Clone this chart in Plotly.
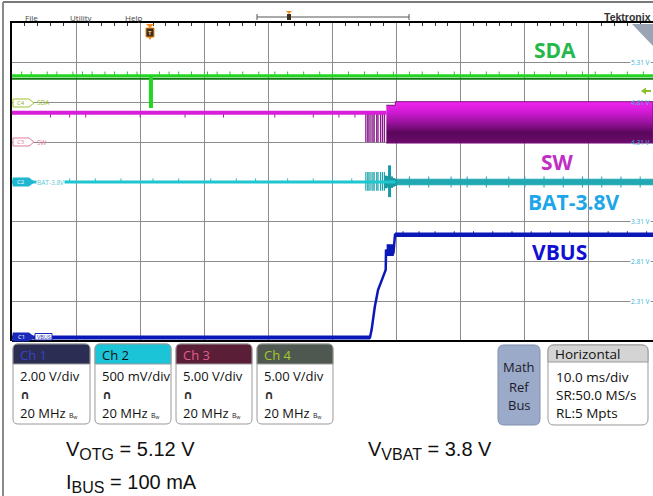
import plotly.graph_objects as go

W, H = 653, 496
def X(p): return p / W
def Y(p): return 1 - p / H

# ---------------- data (time in ms, amplitude in divisions) ----------------
time_range = [0, 100]
div_range = [0, 8]

sda_t = [0, 21.6, 21.6, 21.75, 21.75, 100]
sda_v = [6.67, 6.67, 5.9, 5.9, 6.67, 6.67]
sda_glitch_t = [1.5, 3, 5.5, 7, 9.5, 11, 12.5, 14.5, 16, 18, 19.5, 23, 24.5, 26, 28, 30.5, 32,
                34, 36, 38.5, 41, 43, 45.5, 48, 50, 52.5, 55, 57, 59.5, 62, 64, 66.5, 69, 71.5,
                74, 76, 79, 81.5, 84, 86.5, 89, 91, 93.5, 96, 98.5]
sda_glitch_top = 6.78

sw_idle_t = [0, 58.4]
sw_idle_v = [5.74, 5.74]
sw_idle_glitch_t = [6, 9, 11.5, 20, 27, 33, 41, 47, 51, 53.5]
sw_burst_t = [55.2, 55.5, 55.7, 56.0, 56.3, 56.5, 56.9, 57.1, 57.5, 57.8, 58.1]
sw_burst_low = 5.0
sw_band_t = [58.4, 59.8, 59.8, 100]
sw_band_top = [5.93, 5.93, 6.02, 6.02]
sw_band_bot = [4.98, 4.98, 4.98, 4.98]

bat_t = [0, 59.8]
bat_v = [4.0, 4.0]
bat_glitch_t = [2.5, 6, 9, 13, 17, 22, 26, 31, 35, 38, 43, 47, 50, 53]
bat_burst_t = [55.2, 55.5, 55.7, 56.0, 56.3, 56.5, 56.9, 57.1, 57.5, 57.8, 58.1]
bat_burst_lo, bat_burst_hi = 3.78, 4.25
bat_ring_t = [58.3, 58.6, 58.9, 59.2, 59.5, 59.8]
bat_ring_lo = [3.84, 3.86, 3.62, 3.85, 3.88, 3.9]
bat_ring_hi = [4.16, 4.15, 4.42, 4.14, 4.1, 4.08]
bat_after_t = [59.8, 100]
bat_after_lo = [3.93, 3.93]
bat_after_hi = [4.07, 4.07]
bat_after_glitch_t = [62, 65, 68.5, 71, 74, 77.5, 80, 83, 86, 89, 92, 95, 98]

vbus_t = [0, 55.85, 56.1, 56.6, 57.1, 57.9, 58.3, 58.35, 58.6, 58.85, 59.1, 59.35, 59.5, 59.75, 100]
vbus_v = [0.09, 0.09, 0.28, 0.86, 1.28, 1.62, 1.79, 2.3, 2.16, 2.4, 2.18, 2.4, 2.2, 2.67, 2.67]
vbus_step_t = [58.45, 59.5]
vbus_step_lo = 2.15
vbus_step_hi = 2.42
vbus_glitch_t = [61, 63.5, 66, 69, 72, 75, 78, 81, 84, 87, 90, 93, 96, 99]

offset_labels = ["5.31 V", "4.81 V", "4.31 V", "3.31 V", "2.31 V", "2.81 V"]
offset_divs = [7, 6, 5, 3, 1, 2]

channels = ["Ch 1", "Ch 2", "Ch 3", "Ch 4"]
scales = ["2.00 V/div", "500 mV/div", "5.00 V/div", "5.00 V/div"]
bandwidth = ["20 MHz", "20 MHz", "20 MHz", "20 MHz"]
horizontal = ["10.0 ms/div", "SR:50.0 MS/s", "RL:5 Mpts"]

# ---------------- helpers ----------------
def segs(ts, lo, hi):
    xs, ys = [], []
    for i, t in enumerate(ts):
        l = lo[i] if isinstance(lo, list) else lo
        h = hi[i] if isinstance(hi, list) else hi
        xs += [t, t, None]
        ys += [l, h, None]
    return xs, ys

fig = go.Figure()

# SDA
gx, gy = segs(sda_glitch_t, 6.67, sda_glitch_top)
fig.add_trace(go.Scatter(x=gx, y=gy, mode="lines", line=dict(color="#2bc42b", width=1), hoverinfo="skip"))
fig.add_trace(go.Scatter(x=sda_t, y=[v - 0.07 if v > 6 else v for v in sda_v], mode="lines",
                         line=dict(color="#137a13", width=2), hoverinfo="skip"))
fig.add_trace(go.Scatter(x=sda_t, y=sda_v, mode="lines", line=dict(color="#22d622", width=3), hoverinfo="skip"))

# SW
fig.add_trace(go.Scatter(
    x=sw_band_t + sw_band_t[::-1], y=sw_band_top + sw_band_bot[::-1], mode="lines", fill="toself",
    line=dict(color="#7a107a", width=1),
    fillgradient=dict(type="vertical", start=4.98, stop=6.02,
                      colorscale=[[0, "#6a0c6a"], [0.25, "#5a065c"], [0.5, "#9a129e"],
                                  [0.75, "#d01ad4"], [1, "#f024f0"]]),
    hoverinfo="skip"))
bx, by = segs(sw_burst_t, sw_burst_low, sw_idle_v[0])
fig.add_trace(go.Scatter(x=bx, y=by, mode="lines", line=dict(color="#8a1a8a", width=1.3), hoverinfo="skip"))
gx, gy = segs(sw_idle_glitch_t, 5.62, 5.74)
fig.add_trace(go.Scatter(x=gx, y=gy, mode="lines", line=dict(color="#a020a0", width=1), hoverinfo="skip"))
fig.add_trace(go.Scatter(x=sw_idle_t, y=sw_idle_v, mode="lines", line=dict(color="#d81ed8", width=4), hoverinfo="skip"))

# BAT
fig.add_trace(go.Scatter(x=bat_after_t + bat_after_t[::-1], y=bat_after_hi + bat_after_lo[::-1],
                         mode="lines", fill="toself", fillcolor="#22a8b2",
                         line=dict(color="#22a8b2", width=1), hoverinfo="skip"))
gx, gy = segs(bat_after_glitch_t, 3.86, 4.14)
fig.add_trace(go.Scatter(x=gx, y=gy, mode="lines", line=dict(color="#22a8b2", width=1), hoverinfo="skip"))
bx, by = segs(bat_burst_t, bat_burst_lo, bat_burst_hi)
fig.add_trace(go.Scatter(x=bx, y=by, mode="lines", line=dict(color="#1fa6ae", width=1.2), hoverinfo="skip"))
rx, ry = segs(bat_ring_t, bat_ring_lo, bat_ring_hi)
fig.add_trace(go.Scatter(x=rx, y=ry, mode="lines", line=dict(color="#1a9aa2", width=3), hoverinfo="skip"))
gx, gy = segs(bat_glitch_t, 4.0, 4.09)
fig.add_trace(go.Scatter(x=gx, y=gy, mode="lines", line=dict(color="#1fc0c8", width=1), hoverinfo="skip"))
fig.add_trace(go.Scatter(x=bat_t, y=bat_v, mode="lines", line=dict(color="#1ec6cf", width=3), hoverinfo="skip"))

# VBUS
fig.add_trace(go.Scatter(x=vbus_step_t + vbus_step_t[::-1],
                         y=[vbus_step_lo, vbus_step_lo, vbus_step_hi, vbus_step_hi],
                         mode="lines", fill="toself", fillcolor="#0b18b8",
                         line=dict(color="#0b18b8", width=1), hoverinfo="skip"))
gx, gy = segs(vbus_glitch_t, 2.67, 2.76)
fig.add_trace(go.Scatter(x=gx, y=gy, mode="lines", line=dict(color="#0b18b8", width=1), hoverinfo="skip"))
fig.add_trace(go.Scatter(x=vbus_t, y=vbus_v, mode="lines", line=dict(color="#0b18b8", width=2.5), hoverinfo="skip"))
fig.add_trace(go.Scatter(x=vbus_t[:2], y=vbus_v[:2], mode="lines", line=dict(color="#0b18b8", width=4), hoverinfo="skip"))
fig.add_trace(go.Scatter(x=vbus_t[-2:], y=vbus_v[-2:], mode="lines", line=dict(color="#0b18b8", width=4.5), hoverinfo="skip"))

# ---------------- layout ----------------
shapes = []
annotations = []

def P(points, close=True):
    s = "M " + " L ".join(f"{X(x):.5f},{Y(y):.5f}" for x, y in points)
    return s + (" Z" if close else "")

def rrect(x0, y0, x1, y1, r, top_only=False):
    def p(x, y): return f"{X(x):.5f},{Y(y):.5f}"
    if top_only:
        return (f"M {p(x0, y1)} L {p(x0, y0 + r)} Q {p(x0, y0)} {p(x0 + r, y0)} L {p(x1 - r, y0)} "
                f"Q {p(x1, y0)} {p(x1, y0 + r)} L {p(x1, y1)} Z")
    return (f"M {p(x0 + r, y0)} L {p(x1 - r, y0)} Q {p(x1, y0)} {p(x1, y0 + r)} L {p(x1, y1 - r)} "
            f"Q {p(x1, y1)} {p(x1 - r, y1)} L {p(x0 + r, y1)} Q {p(x0, y1)} {p(x0, y1 - r)} "
            f"L {p(x0, y0 + r)} Q {p(x0, y0)} {p(x0 + r, y0)} Z")

def shp(path, fill="rgba(0,0,0,0)", line="rgba(0,0,0,0)", lw=1, layer="above"):
    shapes.append(dict(type="path", xref="paper", yref="paper", path=path,
                       fillcolor=fill, line=dict(color=line, width=lw), layer=layer))

def lin(x0, y0, x1, y1, color, w=1):
    shapes.append(dict(type="line", xref="paper", yref="paper", x0=X(x0), y0=Y(y0), x1=X(x1), y1=Y(y1),
                       line=dict(color=color, width=w)))

def txt(x, y, s, size=10, color="#222", anchor="left", family="Open Sans", bg=None, yanchor="middle", **kw):
    a = dict(xref="paper", yref="paper", x=X(x), y=Y(y), text=s, showarrow=False, xanchor=anchor,
             yanchor=yanchor, font=dict(size=size, color=color, family=family), borderpad=0)
    if bg:
        a["bgcolor"] = bg
    a.update(kw)
    annotations.append(a)

# outer frame
lin(3, 2, 653, 2, "#7a7a7a", 2)
lin(3, 2, 3, 496, "#8a8a8a", 2)
# bottom graticule border
lin(12, 341, 653, 341, "#000000", 2)

# top menu
txt(31, 17, "File", 8, "#444", "center")
txt(82, 17, "Utility", 8, "#444", "center")
txt(133, 17, "Help", 8, "#444", "center")
lin(257, 17, 409, 17, "#555", 1)
lin(257, 14, 257, 20, "#555", 1)
lin(409, 14, 409, 20, "#555", 1)
shp(P([(286, 11), (292, 11), (289, 14)]), fill="#f08a1a")
shp(P([(287, 14), (291, 14), (291, 20), (287, 20)]), fill="#3a3020")
txt(652, 17, "<b>Tektronix</b>", 10.5, "#333", "right", family="Liberation Sans")

# trigger marker
shp(P([(146, 24), (154, 24), (150, 28)]), fill="#f08a1a")
shp(P([(146, 28), (154, 28), (154, 37), (146, 37)]), fill="#3a2e22", line="#f08a1a", lw=1)
txt(150, 32.5, "<b>T</b>", 6, "#f0c070", "center")
shp(P([(148, 37), (152, 37), (150, 40)]), fill="#f08a1a")

# magnifier corner
shp(P([(632, 24), (653, 24), (653, 46)]), fill="#9aa4b4")

# offset arrow (C4)
shp(P([(641, 91), (646, 87.5), (646, 94.5)]), fill="#8ac02a")
lin(646, 91, 651, 91, "#8ac02a", 2)

# offset voltage labels
for lab, d in zip(offset_labels, offset_divs):
    ypix = 341 - d * 39.75
    txt(651, ypix, lab, 6.5, "#3ab2d6", "right", bg=("white" if d not in (5, 6) else None))

# channel badges on the left
def badge(y, color, filled, label, tcolor):
    shp(P([(13, y - 4), (29, y - 4), (34, y), (29, y + 4), (13, y + 4)]),
        fill=(color if filled else "white"), line=color, lw=1)
    txt(21, y, label, 6, tcolor, "center")

badge(103, "#9cc22e", False, "C4", "#8ab21e")
txt(36, 103, "SDA", 6.5, "#9cc22e", "left")
badge(142, "#e27aa0", False, "C3", "#e27aa0")
txt(36, 142, "SW", 6.5, "#e27aa0", "left")
badge(182, "#1eb6d0", True, "C2", "white")
txt(36, 182, "BAT-3.8V", 6.5, "#5cc6d6", "left", bg="white")
badge(337, "#1a2ab8", True, "C1", "white")
shp(P([(35, 333.5), (52, 333.5), (52, 340), (35, 340)]), fill="white", line="#1a2ab8", lw=1)
txt(43.5, 337, "VBUS", 5.5, "#1a2ab8", "center")

# big trace names
txt(555, 50, "<b>SDA</b>", 21, "#25b84a", "center")
txt(557, 162, "<b>SW</b>", 21, "#c02ec4", "center")
txt(574, 202, "<b>BAT-3.8V</b>", 21, "#1ea6ea", "center")
txt(559, 252, "<b>VBUS</b>", 21, "#1010d2", "center")

# channel boxes
hdr_fill = ["#2b2d52", "#1cc4d8", "#5a1e36", "#4e5850"]
hdr_text = ["#3444c8", "#111111", "#e0608c", "#a6c82e"]
box_x = [(13, 90), (95, 171), (176, 252), (257, 333)]
for i, (x0, x1) in enumerate(box_x):
    shp(rrect(x0, 344, x1, 424, 5), fill="white", line="#9a9a9a", lw=1)
    shp(rrect(x0, 344, x1, 364, 5, top_only=True), fill=hdr_fill[i], line="#9a9a9a", lw=1)
    txt(x0 + 6, 354.5, channels[i], 13, hdr_text[i], "left")
    txt(x0 + 6, 375.5, scales[i], 13, "#111", "left")
    txt(x0 + 6, 394.5, "<b>∩</b>", 12, "#333", "left", family="DejaVu Sans")
    txt(x0 + 6, 412.5, bandwidth[i] + " <span style='font-size:7px'>B<sub>w</sub></span>", 13, "#111", "left")

# Math Ref Bus
shp(rrect(498, 345, 540, 425, 6), fill="#9aaac8", line="#8090b0", lw=1)
for s, yy in zip(["Math", "Ref", "Bus"], [367, 386.5, 405]):
    txt(519, yy, s, 13, "#1c1c2c", "center")

# Horizontal box
shp(rrect(548, 345, 648, 425, 6), fill="white", line="#9a9a9a", lw=1)
shp(rrect(548, 345, 648, 362, 6, top_only=True), fill="#d4d4d4", line="#9a9a9a", lw=1)
txt(554, 354, "Horizontal", 13.5, "#111", "left")
for s, yy in zip(horizontal, [377, 395, 413]):
    txt(555, yy, s, 13.5, "#111", "left")

# bottom annotations
sub = "<sub><span style='font-size:16px'>%s</span></sub>"
txt(65, 450, "V" + sub % "OTG" + " = 5.12 V", 20, "#111", "left", family="Liberation Sans")
txt(367, 450, "V" + sub % "VBAT" + " = 3.8 V", 20, "#111", "left", family="Liberation Sans")
txt(65, 483, "I" + sub % "BUS" + " = 100 mA", 20, "#111", "left", family="Liberation Sans")

fig.update_layout(
    width=W, height=H, margin=dict(l=0, r=0, t=0, b=0),
    paper_bgcolor="white", plot_bgcolor="white", showlegend=False,
    shapes=shapes, annotations=annotations,
    xaxis=dict(domain=[X(12), 1], range=time_range, dtick=10, tick0=0, showgrid=True,
               gridcolor="#8c8c8c", gridwidth=1, zeroline=False, showticklabels=False,
               side="top", showline=True, linecolor="#000", linewidth=2, ticks="",
               minor=dict(ticks="inside", dtick=2, ticklen=3, tickcolor="#333", showgrid=False)),
    yaxis=dict(domain=[Y(341), Y(23)], range=div_range, dtick=1, tick0=0, showgrid=True,
               gridcolor="#8c8c8c", gridwidth=1, zeroline=False, showticklabels=False,
               showline=True, linecolor="#000", linewidth=2, ticks=""),
)

fig.write_html("out.html", config={"displayModeBar": False},
               post_script="document.body.style.margin='0';document.body.style.overflow='hidden';")
